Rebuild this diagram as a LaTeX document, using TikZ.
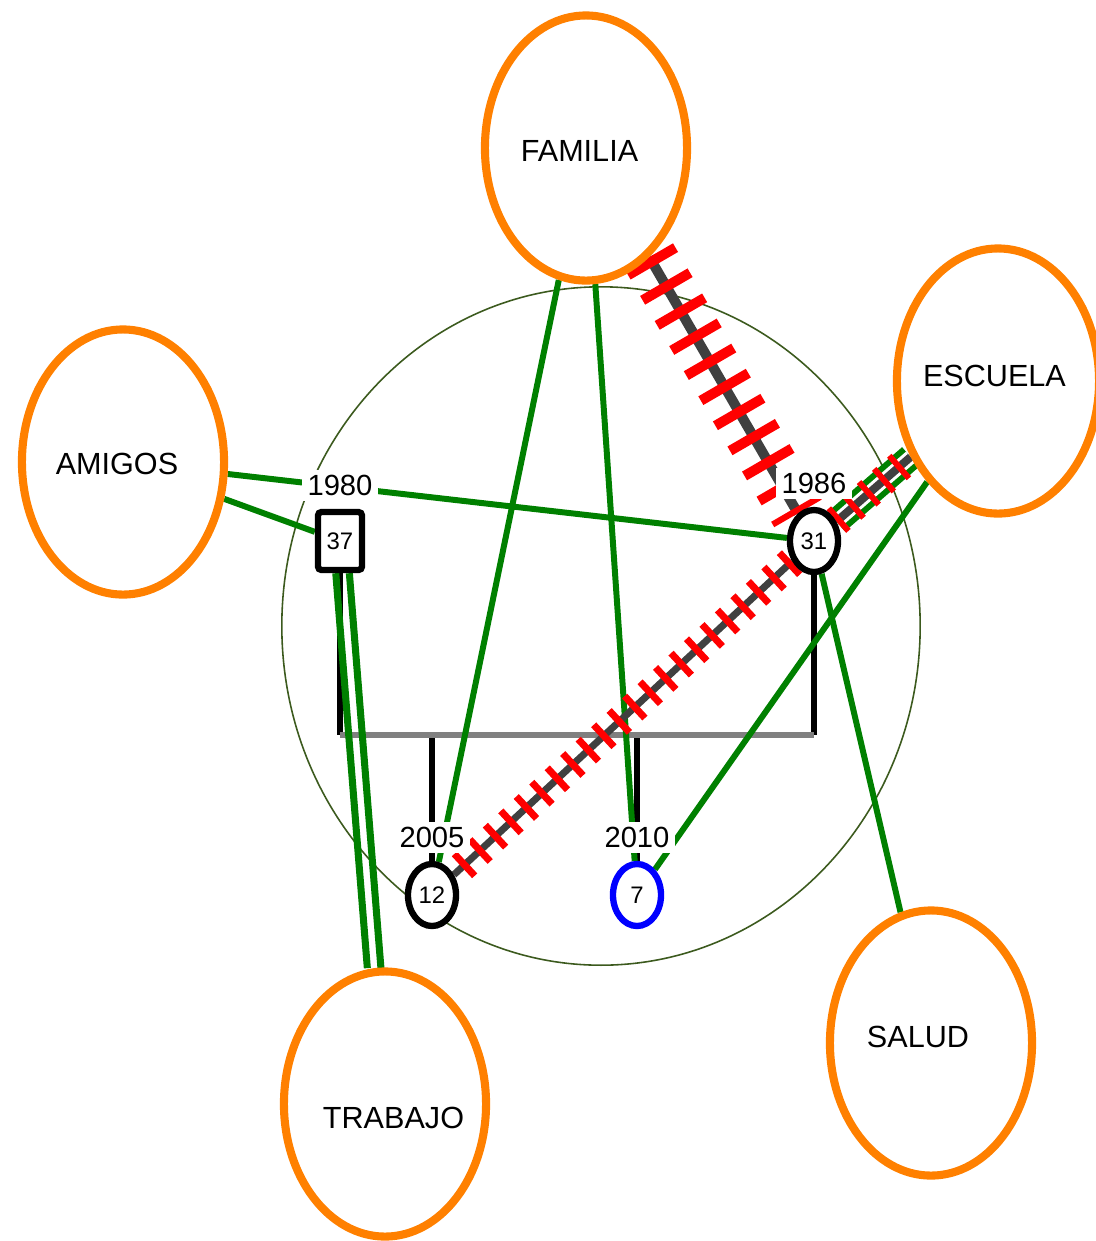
\documentclass[tikz,border=0pt]{standalone}
\usepackage{fontspec}
\setmainfont{Liberation Sans}
\usetikzlibrary{shapes.geometric,positioning}
\definecolor{orgorange}{RGB}{255,128,0}
\definecolor{relgreen}{RGB}{0,128,0}
\definecolor{hostile}{RGB}{64,64,64}
\definecolor{rimgreen}{RGB}{60,90,30}
\pgfdeclarelayer{bg}
\pgfsetlayers{bg,main}
\tikzstyle{org}=[ellipse,draw=orgorange,fill=white,line width=2.3pt,minimum width=2.02cm,minimum height=2.65cm,inner sep=0pt]
\tikzstyle{orgname}=[font=\fontsize{8.7}{10}\selectfont,inner sep=0pt]
\tikzstyle{male}=[rectangle,draw=black,fill=white,line width=1.8pt,rounded corners=1pt,minimum width=0.44cm,minimum height=0.58cm,inner sep=0pt,font=\fontsize{6.8}{8}\selectfont]
\tikzstyle{female}=[ellipse,draw=black,fill=white,line width=1.8pt,minimum width=0.48cm,minimum height=0.62cm,inner sep=0pt,font=\fontsize{6.8}{8}\selectfont]
\tikzstyle{year}=[fill=white,inner sep=1.5pt,font=\fontsize{8.3}{10}\selectfont]
\tikzstyle{kin}=[black,line width=1.7pt]
\tikzstyle{bond}=[relgreen,line width=1.7pt]
\tikzstyle{hatch}=[red,line width=8.5pt,dash pattern=on 2pt off 4pt]

\begin{document}
\begin{tikzpicture}[x=0.01cm,y=-0.01cm]
  \useasboundingbox (0,0) rectangle (1096,1241);
  % organisations
  \node[org,label={[orgname,xshift=-0.065cm,yshift=-0.03cm]center:FAMILIA}] (familia) at (586,148) {};
  \node[org,label={[orgname,xshift=-0.06cm,yshift=-0.02cm]center:AMIGOS}] (amigos) at (123,462) {};
  \node[org,label={[orgname,xshift=-0.035cm,yshift=0.05cm]center:ESCUELA}] (escuela) at (998,381) {};
  \node[org,label={[orgname,xshift=0.085cm,yshift=-0.14cm]center:TRABAJO}] (trabajo) at (385,1104) {};
  \node[org,label={[orgname,xshift=-0.13cm,yshift=0.06cm]center:SALUD}] (salud) at (931,1043) {};
  % household
  \node[male] (p37) at (340,541) {37};
  \node[female] (p31) at (814,541) {31};
  \node[female] (p12) at (432,895) {12};
  \node[female,draw=blue] (p7) at (637,895) {7};
  \coordinate (mL) at (340,735);
  \coordinate (mR) at (814,735);
  \begin{pgfonlayer}{bg}
    \draw[rimgreen,line width=0.45pt] (601,626) ellipse [x radius=3.19cm, y radius=3.39cm];
    \draw[kin] (p37.south) -- (mL);
    \draw[kin] (p31.south) -- (mR);
    \draw[kin] (p12.north |- mL) -- (p12.north);
    \draw[kin] (p7.north |- mL) -- (p7.north);
    \draw[gray,line width=1.7pt] (mL) -- (mR);
    % links
    \draw[bond] (amigos) -- (p37);
    \draw[bond] (amigos) -- (p31);
    \draw[bond] (familia) -- (p12);
    \draw[bond] (familia) -- (p7);
    \draw[bond] (escuela) -- (p7);
    \draw[bond] (p31) -- (salud);
    \draw[bond,line width=2pt,transform canvas={xshift=-0.068cm}] (p37) -- (trabajo);
    \draw[bond,line width=2pt,transform canvas={xshift=0.068cm}] (p37) -- (trabajo);
    \draw[relgreen,line width=1.7pt,double=white,double distance=4pt] (p31) -- (escuela);
    \draw[hostile,line width=2.3pt] (p31) -- (escuela);
    \draw[hatch,line width=8.5pt,dash pattern=on 1.7pt off 4pt] (p31) -- (escuela);
    \draw[hostile,line width=2pt] (p31) -- (p12);
    \draw[hatch] (p31) -- (p12);
    \draw[hostile,line width=2.85pt] (familia) -- (p31);
    \draw[hatch,line width=15.6pt,dash pattern=on 2.85pt off 5.4pt] (familia) -- (p31);
  \end{pgfonlayer}
  \node[year,above=0.07cm of p37] (y37) {1980};
  \node[year,above=0.07cm of p31] (y31) {1986};
  \node[year,above=0.07cm of p12] (y12) {2005};
  \node[year,above=0.07cm of p7] (y7) {2010};
\end{tikzpicture}
\end{document}
